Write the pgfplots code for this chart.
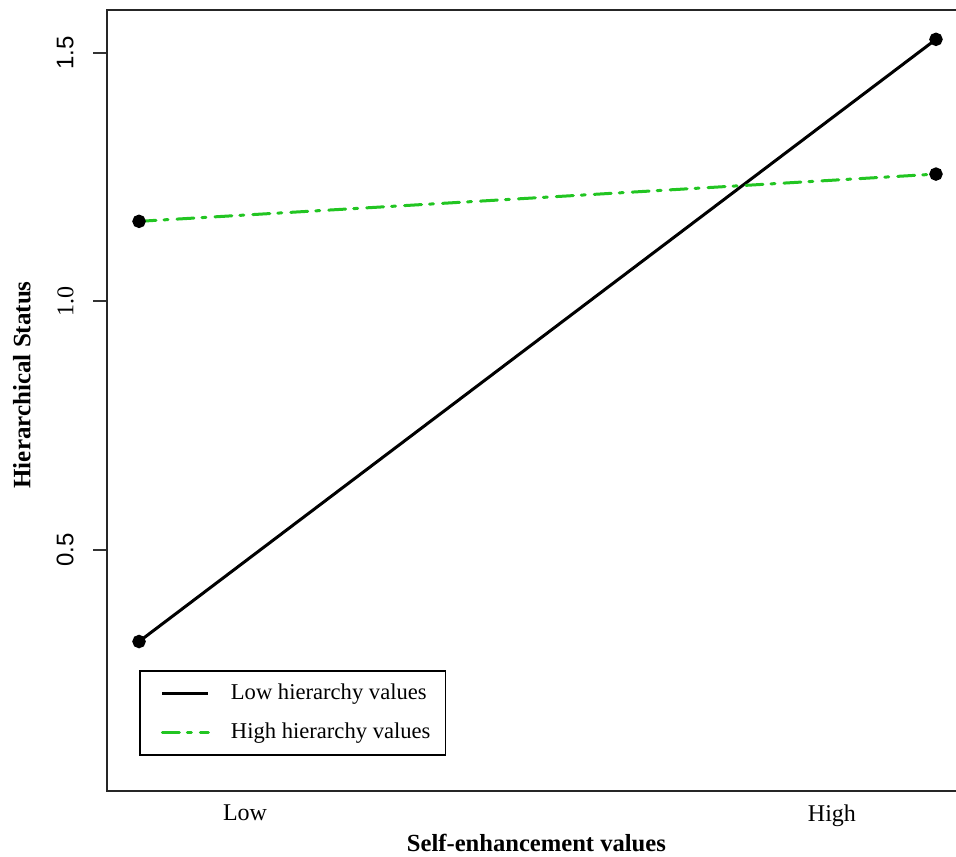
\documentclass[border=0pt]{standalone}
\usepackage{pgfplots}
\pgfplotsset{compat=1.18}
\usepackage{fontspec}
\setmainfont{Liberation Serif}
\setsansfont{Liberation Sans}
\definecolor{rgreen}{HTML}{22C522}
\begin{document}
\begin{tikzpicture}
\begin{axis}[
  at={(0pt,0pt)}, anchor=south west,
  scale only axis,
  width=426pt, height=390.5pt,
  xmin=-0.0402, xmax=1.0289,
  ymin=0.0154, ymax=1.586,
  axis line style={line width=1pt, draw=black!85},
  xtick={0.133,0.8695}, xticklabels={Low,High},
  x tick style={draw=none},
  ytick={0.5,1,1.5},
  yticklabels={{\sffamily 0.5},{1.0},{\sffamily 1.5}},
  ytick pos=left,
  tick align=outside,
  major tick length=7pt,
  y tick style={line width=0.9pt, black!80},
  ticklabel style={font=\fontsize{12}{14}\selectfont},
  yticklabel shift=9.5pt,
  yticklabel style={rotate=90, anchor=south, inner sep=0pt},
  xticklabel style={anchor=north, yshift=3.5pt},
  every axis y label/.style={at={(axis description cs:-0.0998,0.52)}, rotate=90, anchor=center},
  every axis x label/.style={at={(axis description cs:0.504,-0.0666)}, anchor=center},
  xlabel={\fontsize{12.3}{14}\selectfont\bfseries Self-enhancement values},
  ylabel={\fontsize{12.5}{14}\selectfont\bfseries Hierarchical Status},
  legend image code/.code={\path (0pt,0pt) (36.5pt,0pt); \draw[#1] (5pt,0pt) -- (28pt,0pt);},
  legend style={at={(0.0376,0.0448)}, anchor=south west, draw=black, line width=0.9pt,
    inner xsep=5.5pt, inner ysep=1.5pt,
    font=\fontsize{11.3}{13}\selectfont,
    nodes={text height=9pt, text depth=3pt, inner ysep=3.75pt}},
  legend cell align=left,
]
\addplot[black, line width=1.5pt, mark=*, mark size=2.6pt, mark options={solid, fill=black}]
  coordinates {(0,0.316) (1,1.527)};
\addlegendentry{Low hierarchy values}
\addplot[rgreen, line width=1.5pt, line cap=round, dash pattern=on 8.5pt off 4pt on 2pt off 4.5pt,
  mark=*, mark size=2.6pt, mark options={solid, fill=black, draw=black}]
  coordinates {(0,1.161) (1,1.256)};
\addlegendentry{High hierarchy values}
\end{axis}
\pgfresetboundingbox
\path[use as bounding box] (-53.5pt,-32.5pt) rectangle (424.5pt,395.5pt);
\end{tikzpicture}
\end{document}
